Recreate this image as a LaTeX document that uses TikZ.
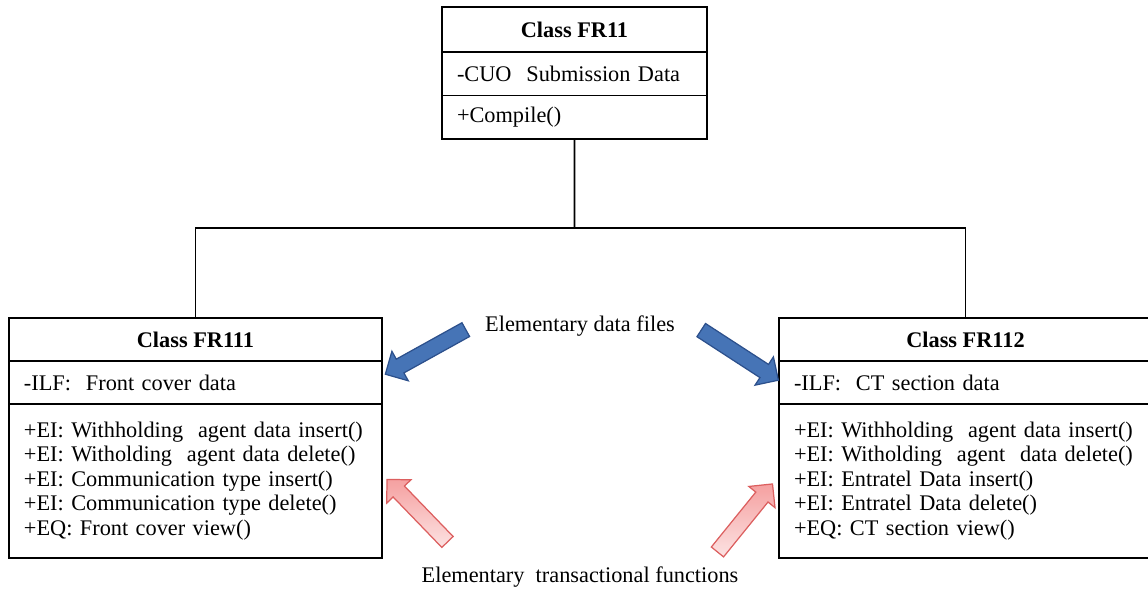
\documentclass[tikz,border=0pt]{standalone}
\usepackage{fontspec}
\setmainfont{Liberation Serif}
\usetikzlibrary{positioning,shapes.arrows}

\definecolor{filesblue}{RGB}{70,116,182}
\definecolor{filesedge}{RGB}{44,80,140}
\definecolor{funcpink}{RGB}{245,160,160}
\definecolor{funcedge}{RGB}{220,95,95}

\begin{document}
\begin{tikzpicture}[x=0.02cm, y=-0.02cm, font=\fontsize{12.7}{14}\selectfont,
	classhead/.style={draw, line width=0.9pt, outer sep=0pt, font=\fontsize{12.7}{14}\selectfont\bfseries, minimum height=0.88cm},
	classpart/.style={draw, line width=0.9pt, outer sep=0pt, align=left, inner xsep=0.3cm, minimum height=0.87cm},
	blockarrow/.style={single arrow, line width=0.7pt, inner sep=0pt, text height=0.29cm, text depth=0pt, minimum width=0pt, single arrow head extend=0.18cm, single arrow head indent=0pt}]
		\useasboundingbox (0,0) rectangle (1148,591);

		% Parent class
		\node[classhead, minimum width=5.3cm, minimum height=0.9cm, anchor=north west] (fr11) at (442,7) {Class FR11};
		\node[classpart, text width=4.7cm, below=0pt of fr11] (fr11a) {-CUO\ \ Submission Data};
		\node[classpart, text width=4.7cm, below=0pt of fr11a] (fr11m) {+Compile()};

		% Left child class
		\node[classhead, minimum width=7.46cm, minimum height=0.86cm, anchor=north west] (fr111) at (9,318) {Class FR111};
		\node[classpart, text width=6.86cm, minimum height=0.86cm, below=0pt of fr111] (fr111a) {-ILF:\ \ Front cover data};
		\node[classpart, text width=6.86cm, minimum height=3.08cm, below=0pt of fr111a] (fr111m)
			{+EI: Withholding\ \ agent data insert()\\+EI: Witholding\ \ agent data delete()\\+EI: Communication type insert()\\+EI: Communication type delete()\\+EQ: Front cover view()};

		% Right child class
		\node[classhead, minimum width=7.46cm, minimum height=0.86cm, anchor=north west] (fr112) at (779,318) {Class FR112};
		\node[classpart, text width=6.86cm, minimum height=0.86cm, below=0pt of fr112] (fr112a) {-ILF:\ \ CT section data};
		\node[classpart, text width=6.86cm, minimum height=3.08cm, below=0pt of fr112a] (fr112m)
			{+EI: Withholding\ \ agent data insert()\\+EI: Witholding\ \ agent\ \ data delete()\\+EI: Entratel Data insert()\\+EI: Entratel Data delete()\\+EQ: CT section view()};

		% Inheritance lines
		\coordinate (bus) at (574.5,228);
		\draw[line width=0.9pt] (fr11m.south) -- (bus);
		\draw[line width=0.9pt] (fr111.north) |- (bus) -| (fr112.north);

		% Labels and block arrows
		\node (files) at (580,326) {Elementary data files};
		\node (funcs) at (580,577) {Elementary\ \ transactional functions};
		\node[blockarrow, fill=filesblue, draw=filesedge, minimum height=1.84cm, rotate=209] (filesl) at (429,350) {};
		\node[blockarrow, fill=filesblue, draw=filesedge, minimum height=1.84cm, rotate=-33] (filesr) at (736.5,353) {};
		\node[blockarrow, top color=funcpink, bottom color=funcpink!30, draw=funcedge, minimum height=1.74cm, rotate=134] (funcsl) at (420,513.5) {};
		\node[blockarrow, top color=funcpink, bottom color=funcpink!30, draw=funcedge, minimum height=1.75cm, rotate=51] (funcsr) at (742.5,521) {};
	\end{tikzpicture}
\end{document}
